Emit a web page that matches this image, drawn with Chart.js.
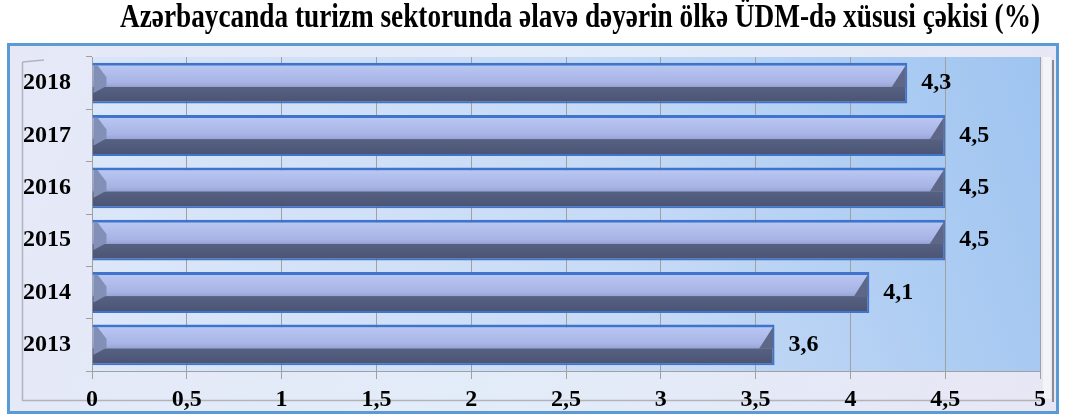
<!DOCTYPE html>
<html>
<head>
<meta charset="utf-8">
<script src="https://cdn.jsdelivr.net/npm/chart.js@4/dist/chart.umd.min.js"></script>
<style>
html,body{margin:0;padding:0;background:#fff;}
#wrap{width:1065px;height:418px;position:relative;}
</style>
</head>
<body>
<div id="wrap"><canvas id="c" width="1065" height="418"></canvas></div>
<script>
const titleText = 'Azərbaycanda turizm sektorunda əlavə dəyərin ölkə ÜDM-də xüsusi çəkisi (%)';
const years = ['2018', '2017', '2016', '2015', '2014', '2013'];
const shares = [4.3, 4.5, 4.5, 4.5, 4.1, 3.6];
const xMin = 0, xMax = 5, xStep = 0.5;

const fmt = v => String(v).replace('.', ',');
const SPLIT = 0.6;
const SERIF = '"Liberation Serif", "Times New Roman", serif';

const bgPlugin = {
  id: 'bgPlugin',
  beforeDraw(chart) {
    const ctx = chart.ctx;
    ctx.save();
    // title (condensed bold serif)
    ctx.font = 'bold 34px ' + SERIF;
    ctx.fillStyle = '#000';
    ctx.textAlign = 'center';
    ctx.textBaseline = 'alphabetic';
    const w = ctx.measureText(titleText).width;
    const sx = 920 / w;
    ctx.save();
    ctx.translate(580, 27);
    ctx.scale(sx, 1);
    ctx.fillText(titleText, 0, 0);
    ctx.restore();
    // outer panel
    const g0 = ctx.createLinearGradient(0, 43, 1065, 414);
    g0.addColorStop(0, '#e6e8f7');
    g0.addColorStop(0.5, '#e2ecf8');
    g0.addColorStop(1, '#e8e6f5');
    ctx.fillStyle = g0;
    ctx.fillRect(7, 43, 1052, 371);
    ctx.strokeStyle = '#5b9bd5';
    ctx.lineWidth = 3;
    ctx.strokeRect(8.5, 44.5, 1049, 368);
    // 3D wall frame
    ctx.strokeStyle = '#b0b4bc';
    ctx.lineWidth = 1.5;
    ctx.beginPath();
    ctx.moveTo(22.5, 62); ctx.lineTo(22.5, 400.5); ctx.lineTo(1040, 400.5);
    ctx.stroke();
    ctx.beginPath();
    ctx.moveTo(22.5, 62); ctx.lineTo(44, 60);
    ctx.stroke();
    ctx.fillStyle = '#f2f4f8';
    ctx.fillRect(1043, 57, 8, 342);
    ctx.strokeStyle = '#888c94';
    ctx.lineWidth = 2;
    ctx.beginPath();
    ctx.moveTo(1053, 60); ctx.lineTo(1053, 402);
    ctx.stroke();
    // plot area background
    const a = chart.chartArea;
    const g = ctx.createLinearGradient(a.left, a.bottom, a.right, a.top);
    g.addColorStop(0, '#dde8f9');
    g.addColorStop(0.55, '#c6daf6');
    g.addColorStop(1, '#9ec4f0');
    ctx.fillStyle = g;
    ctx.fillRect(a.left, a.top, a.right - a.left, a.bottom - a.top);
    ctx.restore();
  }
};

const bevelPlugin = {
  id: 'bevelPlugin',
  afterDatasetsDraw(chart) {
    const ctx = chart.ctx;
    const meta = chart.getDatasetMeta(0);
    ctx.save();
    meta.data.forEach((el, i) => {
      const p = el.getProps(['x', 'y', 'base', 'height'], true);
      const top = p.y - p.height / 2 + 2.5;
      const bot = p.y + p.height / 2 - 2;
      const split = top + (bot - top) * SPLIT;
      const x = p.x - 1.5, b = p.base + 1;
      // right bevel
      ctx.fillStyle = '#5e6788';
      ctx.beginPath();
      ctx.moveTo(x, top);
      ctx.lineTo(x, split);
      ctx.lineTo(x - 14, split);
      ctx.closePath();
      ctx.fill();
      // left bevel
      ctx.fillStyle = '#8290b8';
      ctx.beginPath();
      ctx.moveTo(b, top);
      ctx.lineTo(b + 4, top);
      ctx.lineTo(b + 13, top + (split - top) * 0.55);
      ctx.lineTo(b + 13, split - 1);
      ctx.lineTo(b, split + 6);
      ctx.closePath();
      ctx.fill();
      // value label
      ctx.fillStyle = '#000';
      ctx.font = 'bold 24px ' + SERIF;
      ctx.textBaseline = 'middle';
      ctx.textAlign = 'left';
      ctx.fillText(fmt(shares[i]), p.x + 14, p.y);
    });
    ctx.restore();
  }
};

const barFill = (c) => {
  const chart = c.chart;
  if (!chart.chartArea) return '#a8b4e4';
  const ys = chart.scales.y;
  const cy = ys.getPixelForValue(c.dataIndex);
  const h = (ys.bottom - ys.top) / years.length * 0.78;
  const t = cy - h / 2, btm = cy + h / 2;
  const g = chart.ctx.createLinearGradient(0, t, 0, btm);
  g.addColorStop(0, '#bccaf6');
  g.addColorStop(SPLIT * 0.8, '#a7b3e4');
  g.addColorStop(SPLIT - 0.02, '#9aa5d6');
  g.addColorStop(SPLIT, '#566080');
  g.addColorStop(1, '#4a5373');
  return g;
};

new Chart(document.getElementById('c'), {
  type: 'bar',
  data: {
    labels: years,
    datasets: [{
      data: shares,
      backgroundColor: barFill,
      borderColor: '#3f74cc',
      borderWidth: {top: 3, right: 2, bottom: 2, left: 0},
      borderSkipped: false,
      barPercentage: 0.78,
      categoryPercentage: 1.0
    }]
  },
  options: {
    indexAxis: 'y',
    responsive: false,
    animation: false,
    events: [],
    layout: {padding: {left: 0, right: 25, top: 57, bottom: 0}},
    plugins: {
      legend: {display: false},
      tooltip: {enabled: false},
      title: {display: false}
    },
    scales: {
      x: {
        min: xMin, max: xMax,
        afterFit(s) { s.height = 47; },
        ticks: {
          stepSize: xStep,
          color: '#000',
          padding: 6,
          font: {family: SERIF, size: 24, weight: 'bold'},
          callback: v => fmt(v)
        },
        grid: {color: '#a0a0a0', lineWidth: 1, tickLength: 8},
        border: {color: '#a0a0a0'}
      },
      y: {
        afterFit(s) { s.width = 92; },
        ticks: {
          color: '#000',
          padding: 15,
          font: {family: SERIF, size: 24, weight: 'bold'}
        },
        grid: {drawOnChartArea: false, color: '#a0a0a0', tickLength: 6, offset: true},
        border: {color: '#a0a0a0'}
      }
    }
  },
  plugins: [bgPlugin, bevelPlugin]
});
</script>
</body>
</html>
